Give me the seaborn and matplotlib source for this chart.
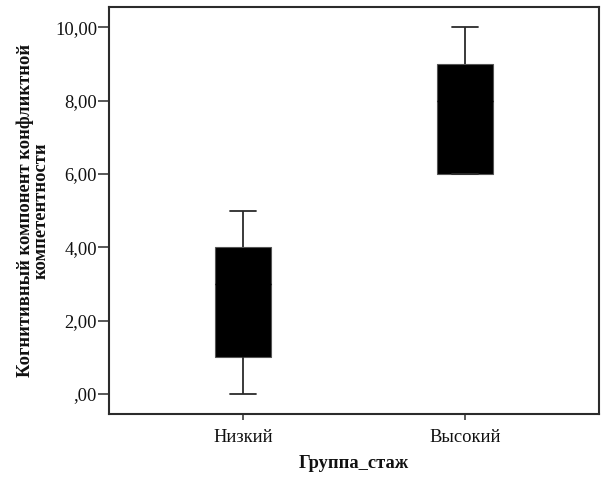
import matplotlib
matplotlib.use("Agg")
import matplotlib.pyplot as plt
import seaborn as sns
import pandas as pd

groups = ["Низкий", "Высокий"]
low_scores = [0, 1, 1, 2, 3, 4, 4, 4, 5]
high_scores = [6, 6, 6, 7, 8, 9, 9, 9, 10]

ytick_values = [0, 2, 4, 6, 8, 10]
ytick_labels = [",00", "2,00", "4,00", "6,00", "8,00", "10,00"]

x_label = "Группа_стаж"
y_label = "Когнитивный компонент конфликтной\nкомпетентности"


def build_frame():
    rows = [(groups[0], v) for v in low_scores] + [(groups[1], v) for v in high_scores]
    return pd.DataFrame(rows, columns=["group", "score"])


def main():
    df = build_frame()

    sns.set_theme(style="white")
    plt.rcParams["font.family"] = ["Liberation Serif", "DejaVu Serif"]

    fig = plt.figure(figsize=(6.05, 4.78), dpi=100)
    ax = fig.add_axes([0.180, 0.134, 0.810, 0.851])

    line_col = "#2b2b2b"
    sns.boxplot(data=df, x="group", y="score", order=groups, ax=ax,
                width=0.252, color="black", whis=1.5, fliersize=0,
                boxprops=dict(facecolor="black", edgecolor="#555555", linewidth=0.8),
                medianprops=dict(color="black", linewidth=1),
                whiskerprops=dict(color=line_col, linewidth=1.3),
                capprops=dict(color=line_col, linewidth=1.3),
                capwidths=0.12)

    ax.set_xlim(-0.604, 1.604)
    ax.set_ylim(-0.545, 10.545)
    ax.set_yticks(ytick_values)
    ax.set_yticklabels(ytick_labels)

    ax.tick_params(axis="y", direction="out", length=8, width=1.1,
                   color=line_col, labelcolor="#111111", labelsize=13.3,
                   pad=0.5, left=True)
    ax.tick_params(axis="x", direction="out", length=4.5, width=1.1,
                   color=line_col, labelcolor="#111111", labelsize=13.3,
                   pad=6.5, bottom=True)

    for side in ["left", "right", "top", "bottom"]:
        ax.spines[side].set_visible(True)
        ax.spines[side].set_color(line_col)
        ax.spines[side].set_linewidth(1.5)

    ax.set_xlabel(x_label, fontsize=13.3, fontweight="bold", labelpad=6,
                  color="#111111")
    ax.set_ylabel(y_label, fontsize=13.3, fontweight="bold", labelpad=3.5,
                  linespacing=0.95, color="#111111")

    fig.savefig("out.png", dpi=100, facecolor="white")


if __name__ == "__main__":
    main()
